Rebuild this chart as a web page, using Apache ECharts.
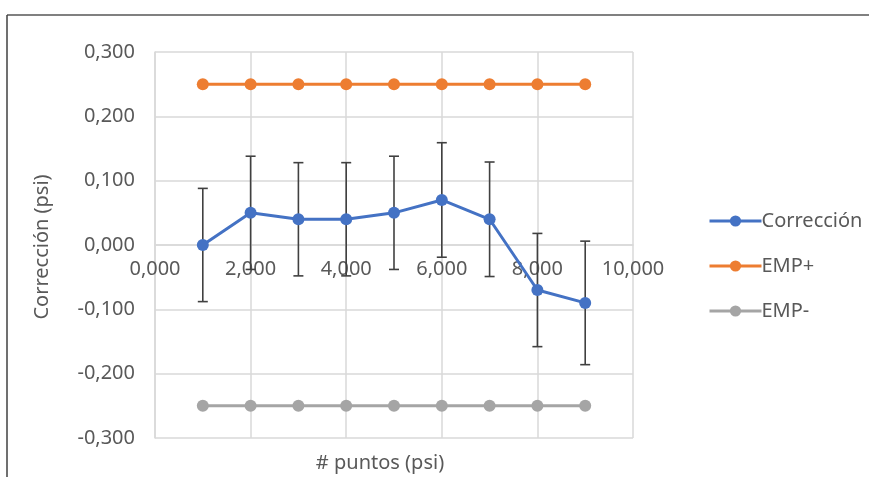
<!DOCTYPE html>
<html>
<head>
<meta charset="utf-8">
<script src="https://cdn.jsdelivr.net/npm/echarts@6/dist/echarts.min.js"></script>
<style>html,body{margin:0;padding:0;background:#fff;}#c{width:869px;height:477px;}</style>
</head>
<body>
<div id="c"></div>
<script>
var xPoints = [1, 2, 3, 4, 5, 6, 7, 8, 9];
var correccion = [0.000, 0.050, 0.040, 0.040, 0.050, 0.070, 0.040, -0.070, -0.090];
var errores = [0.088, 0.088, 0.088, 0.088, 0.088, 0.089, 0.089, 0.088, 0.096];
var empPlus = [0.25, 0.25, 0.25, 0.25, 0.25, 0.25, 0.25, 0.25, 0.25];
var empMinus = [-0.25, -0.25, -0.25, -0.25, -0.25, -0.25, -0.25, -0.25, -0.25];
var seriesNames = ['Corrección', 'EMP+', 'EMP-'];
var xAxisTitle = '# puntos (psi)';
var yAxisTitle = 'Corrección (psi)';

function pairs(xs, ys) { return xs.map(function (x, i) { return [x, ys[i]]; }); }
function fmt(v) { return v.toFixed(3).replace('.', ','); }

var FONT = 'Noto Sans';
var TXT = '#595959';
var GRID_TOP = 52, GRID_BOTTOM = 39, H = 477;
var YMIN = -0.3, YMAX = 0.3;
// shift the x axis up so it crosses the y axis at value 0
var plotH = H - GRID_TOP - GRID_BOTTOM;
var xAxisOffset = -plotH * (0 - YMIN) / (YMAX - YMIN);

var chart = echarts.init(document.getElementById('c'), null, { renderer: 'canvas' });

var errData = xPoints.map(function (x, i) { return [x, correccion[i] - errores[i], correccion[i] + errores[i]]; });

chart.setOption({
  animation: false,
  backgroundColor: '#ffffff',
  textStyle: { fontFamily: FONT },
  grid: { left: 155, right: 236, top: GRID_TOP, bottom: GRID_BOTTOM, containLabel: false },
  xAxis: {
    type: 'value', min: 0, max: 10, interval: 2, position: 'bottom', offset: xAxisOffset,
    axisLine: { show: true, onZero: false, lineStyle: { color: '#d9d9d9', width: 1.5 } },
    axisTick: { show: false },
    splitLine: { show: true, lineStyle: { color: '#d9d9d9', width: 1.5 } },
    axisLabel: { color: TXT, fontSize: 20, fontFamily: FONT, margin: 14, formatter: fmt, showMaxLabel: true, showMinLabel: true }
  },
  yAxis: {
    type: 'value', min: YMIN, max: YMAX, interval: 0.1,
    axisLine: { show: true, onZero: false, lineStyle: { color: '#d9d9d9', width: 1.5 } },
    axisTick: { show: false },
    splitLine: { show: true, lineStyle: { color: '#d9d9d9', width: 1.5 } },
    axisLabel: { color: TXT, fontSize: 20, fontFamily: FONT, margin: 20, formatter: fmt }
  },
  legend: {
    orient: 'vertical', left: 703, top: 206, itemGap: 25,
    itemWidth: 52, itemHeight: 14,
    lineStyle: { width: 3 },
    textStyle: { color: TXT, fontSize: 20, fontFamily: FONT, padding: [0, 0, 0, -5] },
    data: seriesNames
  },
  graphic: [
    { type: 'line', shape: { x1: 7, y1: 15, x2: 869, y2: 15 }, style: { stroke: '#808080', lineWidth: 2 } },
    { type: 'line', shape: { x1: 7, y1: 15, x2: 7, y2: 477 }, style: { stroke: '#404040', lineWidth: 1.5 } },
    { type: 'text', x: 380, y: 463, style: { text: xAxisTitle, fill: TXT, font: '20px "Noto Sans"', textAlign: 'center', textVerticalAlign: 'middle' } },
    { type: 'text', rotation: Math.PI / 2, x: 42, y: 247, style: { text: yAxisTitle, fill: TXT, font: '20px "Noto Sans"', textAlign: 'center', textVerticalAlign: 'middle' } }
  ],
  series: [
    {
      name: 'errbar', type: 'custom', z: 1, silent: true,
      data: errData,
      encode: { x: 0, y: [1, 2] },
      renderItem: function (params, api) {
        var x = api.value(0);
        var lo = api.coord([x, api.value(1)]);
        var hi = api.coord([x, api.value(2)]);
        var cap = 5;
        var st = { stroke: '#404040', lineWidth: 1.6 };
        return { type: 'group', children: [
          { type: 'line', shape: { x1: lo[0], y1: lo[1], x2: hi[0], y2: hi[1] }, style: st },
          { type: 'line', shape: { x1: lo[0] - cap, y1: lo[1], x2: lo[0] + cap, y2: lo[1] }, style: st },
          { type: 'line', shape: { x1: hi[0] - cap, y1: hi[1], x2: hi[0] + cap, y2: hi[1] }, style: st }
        ] };
      }
    },
    {
      name: seriesNames[0], type: 'line', z: 3, data: pairs(xPoints, correccion),
      symbol: 'circle', symbolSize: 12, color: '#4472C4',
      lineStyle: { width: 3, color: '#4472C4' }, itemStyle: { color: '#4472C4' }
    },
    {
      name: seriesNames[1], type: 'line', z: 3, data: pairs(xPoints, empPlus),
      symbol: 'circle', symbolSize: 12, color: '#ED7D31',
      lineStyle: { width: 3, color: '#ED7D31' }, itemStyle: { color: '#ED7D31' }
    },
    {
      name: seriesNames[2], type: 'line', z: 3, data: pairs(xPoints, empMinus),
      symbol: 'circle', symbolSize: 12, color: '#A5A5A5',
      lineStyle: { width: 3, color: '#A5A5A5' }, itemStyle: { color: '#A5A5A5' }
    }
  ]
});
</script>
</body>
</html>
